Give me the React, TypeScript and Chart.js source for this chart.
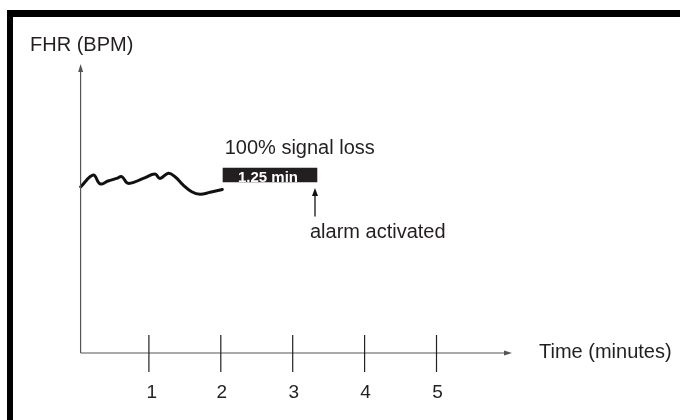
import React, { useEffect, useRef } from "react";
import { Chart, registerables } from "chart.js";

Chart.register(...registerables);

// FHR trace (time in minutes, relative FHR level 0-100 on an unlabeled axis)
const traceTimes = [0.051, 0.227, 0.32, 0.431, 0.552, 0.622, 0.713, 0.922, 1.085, 1.154, 1.27, 1.363, 1.478, 1.595, 1.711, 1.85, 2.021];
const traceLevels = [57.5, 61.6, 58.5, 59.5, 60.4, 61.0, 58.7, 60.4, 61.9, 60.4, 62.2, 61.0, 58.1, 55.8, 54.9, 55.6, 56.6];

// signal loss band
const lossStart = 2.026;
const lossEnd = 3.342;
const lossLevel = 61.6;
const lossLabel = "1.25 min";

// alarm arrow
const alarmTime = 3.31;
const alarmFrom = 47.2;
const alarmTo = 57.1;

const xTicks = [1, 2, 3, 4, 5];
const xTickLabels = ["1", "2", "3", "4", "5"];
const xMax = 6.05;
const yMax = 100;
const axisTime = 0.05;

const TEXT = "#231f20";
const FONT = "Arial, 'Liberation Sans', sans-serif";

const overlay = {
  id: "overlay",
  beforeDraw(chart: any) {
    const ctx = chart.ctx;
    ctx.save();
    ctx.fillStyle = "#fff";
    ctx.fillRect(0, 0, chart.width, chart.height);
    ctx.fillStyle = "#000";
    ctx.fillRect(7, 10, chart.width - 7, 7);
    ctx.fillRect(7, 10, 6, chart.height - 10);
    ctx.restore();
  },
  afterDatasetsDraw(chart: any) {
    const ctx = chart.ctx;
    const xs = chart.scales.x;
    const ys = chart.scales.y;
    const x0 = xs.getPixelForValue(axisTime);
    const y0 = ys.getPixelForValue(0);
    const yTop = ys.getPixelForValue(yMax);
    const xRight = xs.getPixelForValue(xMax);
    ctx.save();
    // axes
    ctx.strokeStyle = "#555";
    ctx.fillStyle = "#555";
    ctx.lineWidth = 1.2;
    ctx.beginPath();
    ctx.moveTo(x0, y0);
    ctx.lineTo(x0, yTop + 4);
    ctx.moveTo(x0, y0);
    ctx.lineTo(xRight - 4, y0);
    ctx.stroke();
    // arrowheads
    ctx.beginPath();
    ctx.moveTo(x0, yTop);
    ctx.lineTo(x0 - 2.5, yTop + 8);
    ctx.lineTo(x0 + 2.5, yTop + 8);
    ctx.closePath();
    ctx.fill();
    ctx.beginPath();
    ctx.moveTo(xRight, y0);
    ctx.lineTo(xRight - 8, y0 - 2.5);
    ctx.lineTo(xRight - 8, y0 + 2.5);
    ctx.closePath();
    ctx.fill();
    // ticks
    ctx.strokeStyle = "#222";
    ctx.lineWidth = 1.2;
    ctx.font = `19px ${FONT}`;
    ctx.fillStyle = TEXT;
    ctx.textAlign = "center";
    ctx.textBaseline = "alphabetic";
    xTicks.forEach((t, i) => {
      const px = xs.getPixelForValue(t);
      ctx.beginPath();
      ctx.moveTo(px, y0 - 18);
      ctx.lineTo(px, y0 + 19);
      ctx.stroke();
      ctx.fillText(xTickLabels[i], px + (i === 0 ? 3 : 1), y0 + 45);
    });
    // axis titles
    ctx.font = `20px ${FONT}`;
    ctx.textAlign = "left";
    ctx.fillText("FHR (BPM)", 30, 50.5);
    ctx.fillText("Time (minutes)", xRight + 27, y0 + 5);
    // signal loss text
    ctx.fillText("100% signal loss", xs.getPixelForValue(lossStart) + 2, 154);
    // band label
    ctx.fillStyle = "#fff";
    ctx.font = `bold 15px ${FONT}`;
    ctx.textAlign = "center";
    ctx.textBaseline = "middle";
    const bandMid = (xs.getPixelForValue(lossStart) + xs.getPixelForValue(lossEnd)) / 2;
    ctx.fillText(lossLabel, bandMid - 2, ys.getPixelForValue(lossLevel) + 2.5);
    // alarm arrow
    const ax = xs.getPixelForValue(alarmTime);
    const ay1 = ys.getPixelForValue(alarmFrom);
    const ay2 = ys.getPixelForValue(alarmTo);
    ctx.strokeStyle = "#111";
    ctx.fillStyle = "#111";
    ctx.lineWidth = 1.3;
    ctx.beginPath();
    ctx.moveTo(ax, ay1);
    ctx.lineTo(ax, ay2 + 5);
    ctx.stroke();
    ctx.beginPath();
    ctx.moveTo(ax, ay2);
    ctx.lineTo(ax - 3, ay2 + 8);
    ctx.lineTo(ax + 3, ay2 + 8);
    ctx.closePath();
    ctx.fill();
    ctx.fillStyle = TEXT;
    ctx.font = `20px ${FONT}`;
    ctx.textAlign = "left";
    ctx.textBaseline = "alphabetic";
    ctx.fillText("alarm activated", ax - 5, ay1 + 21.5);
    ctx.restore();
  },
};

export default function App() {
  const ref = useRef<HTMLCanvasElement>(null);
  useEffect(() => {
    if (!ref.current) return;
    const chart = new Chart(ref.current, {
      type: "line",
      data: {
        datasets: [
          {
            data: traceTimes.map((t, i) => ({ x: t, y: traceLevels[i] })),
            borderColor: "#111",
            borderWidth: 3,
            pointRadius: 0,
            tension: 0.4,
            borderJoinStyle: "round",
            borderCapStyle: "round",
            fill: false,
          },
          {
            data: [
              { x: lossStart, y: lossLevel },
              { x: lossEnd, y: lossLevel },
            ],
            borderColor: "#231f20",
            borderWidth: 14.6,
            borderCapStyle: "butt",
            pointRadius: 0,
            fill: false,
          },
        ],
      },
      options: {
        responsive: false,
        animation: false,
        layout: { padding: { left: 77, right: 168, top: 64, bottom: 67 } },
        plugins: { legend: { display: false }, tooltip: { enabled: false } },
        scales: {
          x: { type: "linear", min: 0, max: xMax, display: false },
          y: { type: "linear", min: 0, max: yMax, display: false },
        },
      },
      plugins: [overlay],
    });
    return () => chart.destroy();
  }, []);
  return (
    <div style={{ position: "fixed", left: 0, top: 0, width: 680, height: 420 }}>
      <canvas ref={ref} width={680} height={420} style={{ display: "block" }} />
    </div>
  );
}
